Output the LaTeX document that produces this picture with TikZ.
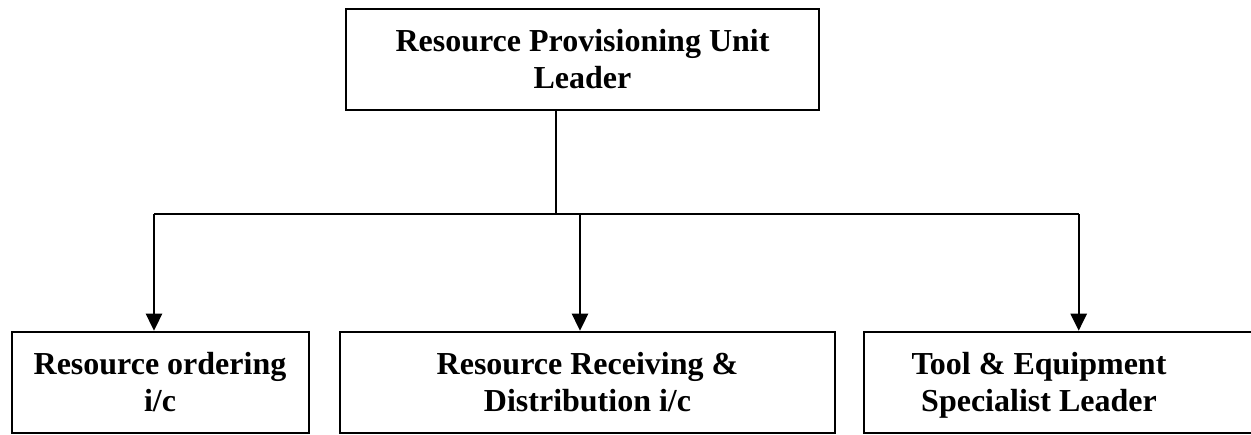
\documentclass[tikz,border=0pt]{standalone}
\usepackage{fontspec}
\setmainfont{Liberation Serif}
\usetikzlibrary{arrows.meta}
\begin{document}
\begin{tikzpicture}[x=1pt,y=-1pt,
  box/.style={draw=black, line width=2pt, rectangle, inner sep=0pt, align=center,
    font=\fontsize{32}{37}\selectfont\bfseries},
  txt/.style={inner sep=0pt, align=center, font=\fontsize{32}{37}\selectfont\bfseries},
  thinconn/.style={line width=1.4pt},
  conn/.style={line width=1.6pt},
  arr/.style={line width=2.4pt, -{Triangle[width=16pt,length=17pt]}}]
\useasboundingbox (0,0) rectangle (1251,435);
\node[box, minimum width=473pt, minimum height=101pt] (top) at (582.5,59.5) {};
\node[txt] (toptext) at (582.5,62.5) {\strut Resource Provisioning Unit\\\strut Leader};
\node[box, minimum width=297pt, minimum height=101.5pt] (left) at (160.3,382.5) {};
\node[txt] (lefttext) at (160,385.5) {\strut Resource ordering\\\strut i/c};
\node[box, minimum width=495pt, minimum height=101.5pt] (mid) at (587.5,382.5) {};
\node[txt] (midtext) at (587.5,385.5) {\strut Resource Receiving \&\\\strut Distribution i/c};
\node[box, minimum width=390pt, minimum height=101.5pt] (right) at (1059,382.5) {};
\node[txt] (righttext) at (1039,385.5) {\strut Tool \& Equipment\\\strut Specialist Leader};
\coordinate (j) at (556,214.3);
\coordinate (jl) at (154,214.3);
\coordinate (jm) at (580,214.3);
\coordinate (jr) at (1078.7,214.3);
\draw[thinconn] (top.south -| j) -- (j);
\draw[conn] (jl) -- (jr);
\draw[arr] (jl) -- (left.north -| jl);
\draw[arr] (jm) -- (mid.north -| jm);
\draw[arr] (jr) -- (right.north -| jr);
\end{tikzpicture}
\end{document}
